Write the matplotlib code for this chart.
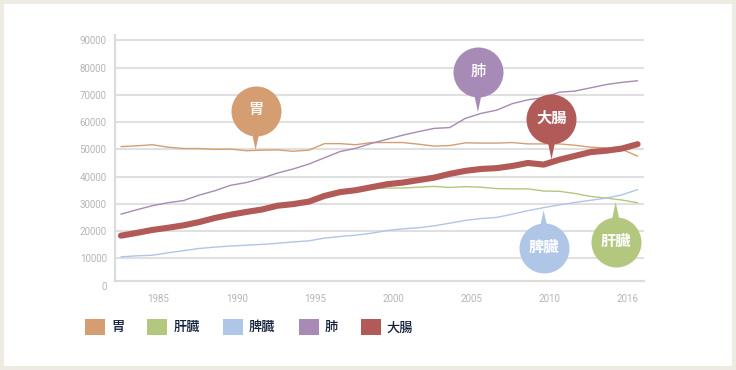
import matplotlib
matplotlib.use("Agg")
import matplotlib.pyplot as plt
from matplotlib.patches import Patch, Rectangle
from matplotlib.transforms import ScaledTranslation

plt.rcParams['font.family'] = ['Noto Sans CJK JP', 'DejaVu Sans']

years = list(range(1983, 2017))

stomach = [51000, 51300, 51700, 50800, 50300, 50300, 50000, 50100, 49500, 49700,
           49800, 49300, 49700, 52100, 52100, 51700, 52500, 52500, 52500, 51900,
           51200, 51400, 52400, 52300, 52300, 52500, 52000, 52000, 52000, 51500,
           50800, 50500, 50000, 47500]
liver = [18300, 19200, 20400, 21300, 22500, 23800, 25200, 26100, 27000, 27800,
         29000, 29800, 30600, 32600, 34000, 34700, 35600, 35800, 35800, 36100,
         36400, 36000, 36300, 36100, 35600, 35500, 35500, 34700, 34600, 33800,
         32700, 32100, 31400, 30400]
spleen = [10500, 10900, 11100, 12000, 12800, 13600, 14100, 14500, 14800, 15100,
          15500, 16000, 16400, 17400, 18000, 18500, 19200, 20200, 20800, 21200,
          21900, 22900, 23900, 24600, 25000, 26200, 27500, 28600, 29600, 30500,
          31300, 32100, 33300, 35200]
lung = [26200, 27800, 29300, 30400, 31200, 33200, 34800, 36800, 37800, 39400,
        41300, 42800, 44600, 46900, 49200, 50400, 52200, 53700, 55200, 56500,
        57700, 58000, 61400, 63200, 64400, 66800, 68200, 69000, 71000, 71400,
        72600, 73800, 74600, 75200]
colon = [18300, 19300, 20400, 21200, 22100, 23300, 24800, 26000, 27000, 27900,
         29300, 29900, 30800, 32900, 34300, 35000, 36100, 37200, 37800, 38700,
         39600, 41000, 42100, 42800, 43100, 43900, 45000, 44400, 46200, 47600,
         49000, 49500, 50300, 51900]

names = ['胃', '肝臓', '脾臓', '肺', '大腸']
colors = ['#D49E72', '#B4C77F', '#AFC6E6', '#A78AB5', '#B15A57']
series = [stomach, liver, spleen, lung, colon]

tick_pos = [1985.4, 1990.4, 1995.4, 2000.4, 2005.4, 2010.35, 2015.35]
tick_labels = ['1985', '1990', '1995', '2000', '2005', '2010', '2016']

# callouts: series index, tip (year, value), offset of bubble in points
bubble_idx = [0, 3, 4, 2, 1]
bubble_x = [1991.6, 2005.8, 2010.5, 2010.0, 2014.6]
bubble_y = [49700, 63700, 46300, 27600, 30700]
bubble_dy = [28, 28.5, 29, -27, -29]
bubble_weight = ['medium', 'medium', 'bold', 'bold', 'bold']

fig = plt.figure(figsize=(7.36, 3.70), dpi=100, facecolor='#EEECE2')
fig.add_artist(Rectangle((4 / 736, 4 / 370), 728 / 736, 362 / 370,
                         transform=fig.transFigure, facecolor='white',
                         edgecolor='none', zorder=-1))

ax = fig.add_axes([115 / 736, 1 - 285.5 / 370, (644 - 115) / 736, (285.5 - 35) / 370])
ax.set_facecolor('none')

for s, c, n in zip(series, colors, names):
    lw = 4.4 if n == '大腸' else 1.0
    ax.plot(years, s, color=c, lw=lw, solid_capstyle='round',
            solid_joinstyle='round', zorder=3)

# spine position first: moving it resets the ticks
for side in ['top', 'right']:
    ax.spines[side].set_visible(False)
ax.spines['bottom'].set_position(('data', 1800))
ax.spines['bottom'].set_color('#dcdcdc')
ax.spines['bottom'].set_linewidth(1.6)
ax.spines['left'].set_color('#dcdcdc')
ax.spines['left'].set_linewidth(1.6)

ax.set_xlim(1982.62, 2016.41)
ax.set_ylim(0, 92000)
ax.spines['left'].set_bounds(1800, 92000)
ax.set_yticks(range(0, 90001, 10000))
ax.set_xticks(tick_pos)
ax.set_xticklabels(tick_labels)

ax.tick_params(axis='both', length=0, labelsize=7, labelcolor='#b5b5b5')
ax.tick_params(axis='y', pad=6)
ax.tick_params(axis='x', pad=10)
for lab in ax.get_xticklabels() + ax.get_yticklabels():
    lab.set_fontfamily('Roboto')

ax.grid(axis='y', color='#e0e0e0', lw=1.5)
ax.get_ygridlines()[0].set_visible(False)
ax.set_axisbelow(True)

# speech-bubble callouts
for i, bx, by, dy, w in zip(bubble_idx, bubble_x, bubble_y, bubble_dy, bubble_weight):
    c = colors[i]
    ax.annotate('', xy=(bx, by), xytext=(0, dy), textcoords='offset points',
                arrowprops=dict(arrowstyle='wedge,tail_width=0.6,shrink_factor=0.5',
                                mutation_scale=20, fc=c, ec='none',
                                shrinkA=0, shrinkB=0),
                annotation_clip=False, zorder=5)
    off = ax.transData + ScaledTranslation(0, dy / 72, fig.dpi_scale_trans)
    ax.plot([bx], [by], marker='o', ms=36, color=c, mec='none',
            transform=off, clip_on=False, zorder=6)
    ax.annotate(names[i], xy=(bx, by), xytext=(0, dy + 1), textcoords='offset points',
                ha='center', va='center', color='white', fontsize=11,
                fontweight=w, zorder=7, annotation_clip=False)

handles = [Patch(facecolor=c, edgecolor='none') for c in colors]
leg = fig.legend(handles, names, loc='center left',
                 bbox_to_anchor=(85 / 736, 1 - 327 / 370), ncol=5, frameon=False,
                 fontsize=9.5, handlelength=1.52, handleheight=1.52,
                 handletextpad=0.45, columnspacing=1.75, borderpad=0,
                 borderaxespad=0, labelcolor='#14213d')
for t in leg.get_texts():
    t.set_fontweight('medium')

fig.savefig('out.png', dpi=100, facecolor=fig.get_facecolor())
